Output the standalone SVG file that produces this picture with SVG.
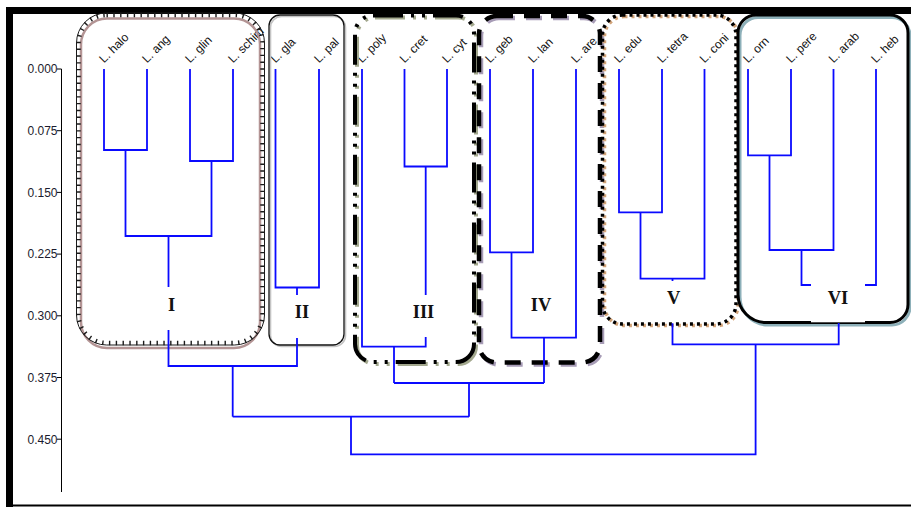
<svg xmlns="http://www.w3.org/2000/svg" xmlns:xlink="http://www.w3.org/1999/xlink" width="911" height="507" viewBox="0 0 911 507">
<style>
.leaf{font-family:"Liberation Sans",Arial,sans-serif;font-size:12px;fill:#111}
.tick{font-family:"Liberation Sans",Arial,sans-serif;font-size:12px;fill:#1b1b2e;text-anchor:end}
.roman{font-family:"Liberation Serif","Times New Roman",serif;font-size:18.5px;font-weight:bold;fill:#111;text-anchor:middle}
.conn{fill:none;stroke:#0a0aff;stroke-width:1.8;stroke-linecap:butt;stroke-linejoin:miter}
.b{fill:none}
</style>
<defs>
<rect id="boxIII" x="355" y="15.5" width="119" height="346.5" rx="18"/>
<rect id="boxIV" x="479" y="16" width="121" height="346.5" rx="18"/>
<rect id="boxV" x="602.5" y="15" width="133.5" height="309" rx="20"/>
<path id="boxVI" d="M756 15 H890 A18 18 0 0 1 908 33 V304.5 A18 18 0 0 1 890 322.5 H766 A28 28 0 0 1 738 294.5 V33 A18 18 0 0 1 756 15 Z"/>
</defs>
<rect width="911" height="507" fill="#fff"/>
<!-- frame -->
<rect x="6" y="7" width="905" height="7" fill="#000"/>
<rect x="6" y="7" width="7" height="500" fill="#000"/>
<rect x="6" y="504.5" width="905" height="2" fill="#000"/>
<!-- axis -->
<g id="axis" stroke="#000" stroke-width="1">
<line x1="61.5" y1="69" x2="61.5" y2="492"/>
<line x1="57" y1="69" x2="61.5" y2="69"/>
<line x1="57" y1="130.7" x2="61.5" y2="130.7"/>
<line x1="57" y1="192.4" x2="61.5" y2="192.4"/>
<line x1="57" y1="254.1" x2="61.5" y2="254.1"/>
<line x1="57" y1="315.8" x2="61.5" y2="315.8"/>
<line x1="57" y1="377.5" x2="61.5" y2="377.5"/>
<line x1="57" y1="439.2" x2="61.5" y2="439.2"/>
</g>
<g id="axis-labels">
<text class="tick" x="57.5" y="73.3">0.000</text>
<text class="tick" x="57.5" y="135">0.075</text>
<text class="tick" x="57.5" y="196.7">0.150</text>
<text class="tick" x="57.5" y="258.4">0.225</text>
<text class="tick" x="57.5" y="320.1">0.300</text>
<text class="tick" x="57.5" y="381.8">0.375</text>
<text class="tick" x="57.5" y="443.5">0.450</text>
</g>
<!-- leaf labels -->
<g id="leaf-halo"><text class="leaf" x="104" y="63.5" transform="rotate(-45 104 63.5)">L. halo</text></g>
<g id="leaf-ang"><text class="leaf" x="147" y="63.5" transform="rotate(-45 147 63.5)">L. ang</text></g>
<g id="leaf-glin"><text class="leaf" x="190" y="63.5" transform="rotate(-45 190 63.5)">L. glin</text></g>
<g id="leaf-schim"><text class="leaf" x="233" y="63.5" transform="rotate(-45 233 63.5)">L. schim</text></g>
<g id="leaf-gla"><text class="leaf" x="275.5" y="63.5" transform="rotate(-45 275.5 63.5)">L. gla</text></g>
<g id="leaf-pal"><text class="leaf" x="319" y="63.5" transform="rotate(-45 319 63.5)">L. pal</text></g>
<g id="leaf-poly"><text class="leaf" x="362" y="63.5" transform="rotate(-45 362 63.5)">L. poly</text></g>
<g id="leaf-cret"><text class="leaf" x="404.5" y="63.5" transform="rotate(-45 404.5 63.5)">L. cret</text></g>
<g id="leaf-cyt"><text class="leaf" x="447" y="63.5" transform="rotate(-45 447 63.5)">L. cyt</text></g>
<g id="leaf-geb"><text class="leaf" x="490" y="63.5" transform="rotate(-45 490 63.5)">L. geb</text></g>
<g id="leaf-lan"><text class="leaf" x="533" y="63.5" transform="rotate(-45 533 63.5)">L. lan</text></g>
<g id="leaf-are"><text class="leaf" x="576" y="63.5" transform="rotate(-45 576 63.5)">L. are</text></g>
<g id="leaf-edu"><text class="leaf" x="619" y="63.5" transform="rotate(-45 619 63.5)">L. edu</text></g>
<g id="leaf-tetra"><text class="leaf" x="662" y="63.5" transform="rotate(-45 662 63.5)">L. tetra</text></g>
<g id="leaf-coni"><text class="leaf" x="704.5" y="63.5" transform="rotate(-45 704.5 63.5)">L. coni</text></g>
<g id="leaf-orn"><text class="leaf" x="748" y="63.5" transform="rotate(-45 748 63.5)">L. orn</text></g>
<g id="leaf-pere"><text class="leaf" x="791" y="63.5" transform="rotate(-45 791 63.5)">L. pere</text></g>
<g id="leaf-arab"><text class="leaf" x="833.5" y="63.5" transform="rotate(-45 833.5 63.5)">L. arab</text></g>
<g id="leaf-heb"><text class="leaf" x="876" y="63.5" transform="rotate(-45 876 63.5)">L. heb</text></g>
<!-- cluster boxes -->
<g id="cluster-I">
<rect class="b" x="81" y="18.5" width="179" height="329.5" rx="26" stroke="#b39494" stroke-width="2.5"/>
<rect class="b" x="78.5" y="15" width="184" height="328" rx="28" stroke="#1a1a1a" stroke-width="4.5" stroke-dasharray="1.4 5.4"/>
<rect class="b" x="76.5" y="13" width="188" height="332" rx="30" stroke="#1a1a1a" stroke-width="1"/>
<text class="roman" x="171.5" y="310.7">I</text>
</g>
<g id="cluster-II">
<rect class="b" x="270.5" y="16.5" width="75" height="330" rx="11" stroke="#c4c4c4" stroke-width="1.6"/>
<rect class="b" x="269" y="15" width="75" height="330" rx="11" stroke="#111" stroke-width="1.3"/>
<text class="roman" x="302" y="318.3">II</text>
</g>
<g id="cluster-III">
<use xlink:href="#boxIII" transform="translate(2 2)" class="b" stroke="#a3a88e" stroke-width="4" stroke-dasharray="30 8 3 8 3 8"/>
<use xlink:href="#boxIII" class="b" stroke="#000" stroke-width="4" stroke-dasharray="30 8 3 8 3 8"/>
<text class="roman" x="423.5" y="317.7">III</text>
</g>
<g id="cluster-IV">
<use xlink:href="#boxIV" transform="translate(2 2)" class="b" stroke="#a79cb6" stroke-width="4.5" stroke-dasharray="16 11"/>
<use xlink:href="#boxIV" class="b" stroke="#000" stroke-width="4.5" stroke-dasharray="16 11"/>
<text class="roman" x="541" y="310.7">IV</text>
</g>
<g id="cluster-V">
<use xlink:href="#boxV" transform="translate(2 1.5)" class="b" stroke="#d2a47a" stroke-width="3.5" stroke-dasharray="3 4"/>
<use xlink:href="#boxV" class="b" stroke="#000" stroke-width="3.5" stroke-dasharray="3 4"/>
<text class="roman" x="673.7" y="304">V</text>
</g>
<g id="cluster-VI">
<use xlink:href="#boxVI" transform="translate(2 2.5)" class="b" stroke="#8db0b9" stroke-width="3"/>
<use xlink:href="#boxVI" class="b" stroke="#000" stroke-width="3"/>
<rect x="811" y="283.5" width="54" height="38.8" fill="#fff"/>
<text class="roman" x="838" y="304">VI</text>
</g>
<!-- connectors (dendrogram) -->
<g id="connectors" class="conn">
<path d="M104 69 V150 H147 V69"/>
<path d="M190 69 V161 H233 V69"/>
<path d="M125.5 150 V236 H211.5 V161"/>
<path d="M168.5 236 V287"/>
<path d="M168.5 330 V366 H297 V338"/>
<path d="M275.5 69 V287.5 H319 V69"/>
<path d="M297 287.5 V295"/>
<path d="M232.7 366 V416.7"/>
<path d="M404.5 69 V166.5 H447 V69"/>
<path d="M425.7 166.5 V295"/>
<path d="M362 69 V346.7 H425.7 V337"/>
<path d="M394 346.7 V383"/>
<path d="M490 69 V252.3 H533 V69"/>
<path d="M511.5 252.3 V337.7 H576 V69"/>
<path d="M544 337.7 V383"/>
<path d="M394 383 H544"/>
<path d="M469 383 V416.7"/>
<path d="M232.7 416.7 H469"/>
<path d="M351 416.7 V454.3 H755.6 V344.3"/>
<path d="M619 69 V212.3 H662 V69"/>
<path d="M640.5 212.3 V278.7 H704.5 V69"/>
<path d="M672.5 278.7 V281"/>
<path d="M672.5 323.3 V344.3 H838.7 V323"/>
<path d="M748 69 V155.3 H791 V69"/>
<path d="M769.5 155.3 V250 H833.5 V69"/>
<path d="M801.5 250 V285 H811"/>
<path d="M865 285 H876 V69"/>
</g>
</svg>
